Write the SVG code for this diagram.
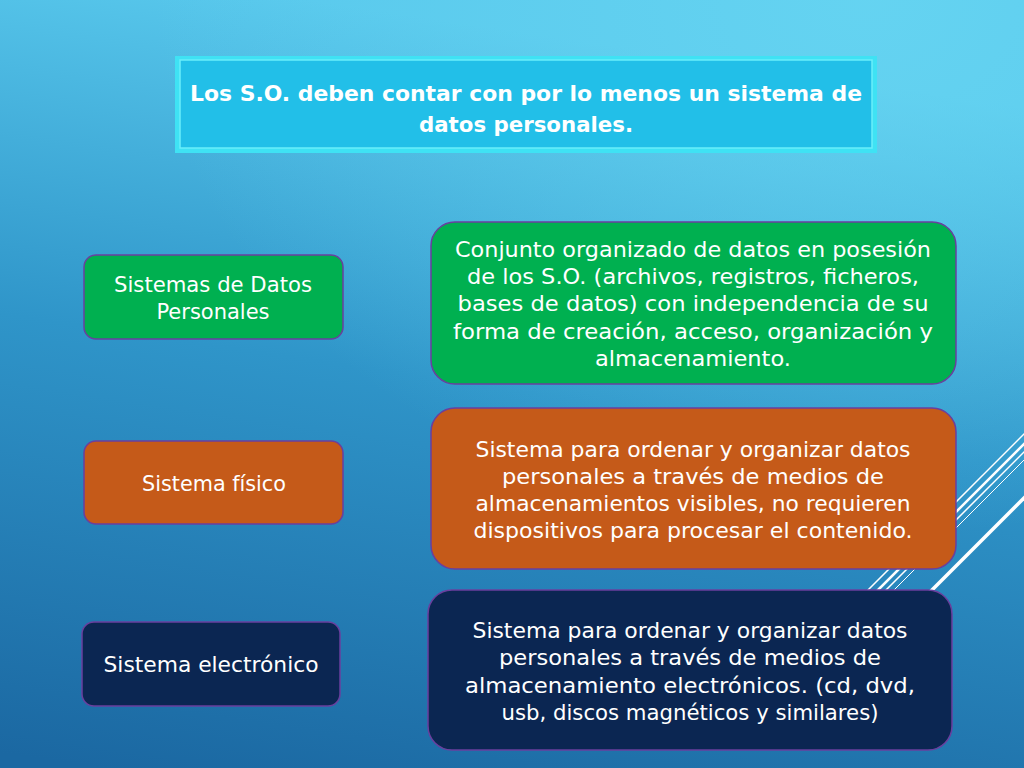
<svg xmlns="http://www.w3.org/2000/svg" width="1024" height="768" viewBox="0 0 1024 768">
  <defs>
    <linearGradient id="bg" x1="0.3" y1="0" x2="0.1" y2="1">
      <stop offset="0" stop-color="#58c8ec"/>
      <stop offset="0.45" stop-color="#2f95c9"/>
      <stop offset="1" stop-color="#1b68a2"/>
    </linearGradient>
    <radialGradient id="hl" cx="0.85" cy="0" r="0.7">
      <stop offset="0" stop-color="#6ad8f3" stop-opacity="0.7"/>
      <stop offset="1" stop-color="#6ad8f3" stop-opacity="0"/>
    </radialGradient>
    <style>
      .body { font-family: "DejaVu Sans", "Liberation Sans", sans-serif; font-size: 21px; fill: #ffffff; text-anchor: middle; }
      .title { font-family: "DejaVu Sans", "Liberation Sans", sans-serif; font-size: 22px; font-weight: bold; fill: #ffffff; text-anchor: middle; }
      .box { stroke: #6a3f9e; stroke-width: 1.5; }
      .green { fill: #00b050; }
      .orange { fill: #c55a19; }
      .navy { fill: #0b2652; }
      .deco { stroke: #ffffff; fill: none; }
    </style>
  </defs>

  <rect x="0" y="0" width="1024" height="768" fill="url(#bg)"/>
  <rect x="0" y="0" width="1024" height="768" fill="url(#hl)"/>

  <g id="decoration">
    <line class="deco" x1="818" y1="640" x2="1100" y2="358" stroke-width="1.5"/>
    <line class="deco" x1="828" y1="640" x2="1110" y2="358" stroke-width="2.5"/>
    <line class="deco" x1="836" y1="640" x2="1118" y2="358" stroke-width="1.5"/>
    <line class="deco" x1="844" y1="640" x2="1126" y2="358" stroke-width="1"/>
    <line class="deco" x1="882" y1="640" x2="1164" y2="358" stroke-width="3.5"/>
  </g>

  <g id="title">
    <rect x="175" y="56" width="702" height="97" fill="#3fe2f4"/>
    <rect x="180" y="60" width="692" height="88" fill="#22bfe8" stroke="#6aeefa" stroke-width="1.5"/>
    <text class="title" x="526" y="101" textLength="672" lengthAdjust="spacingAndGlyphs">Los S.O. deben contar con por lo menos un sistema de</text>
    <text class="title" x="526" y="132" textLength="214" lengthAdjust="spacingAndGlyphs">datos personales.</text>
  </g>

  <g id="node-sdp">
    <rect class="box green" x="84" y="255" width="259" height="84" rx="12"/>
    <text class="body" x="213" y="292" textLength="198" lengthAdjust="spacingAndGlyphs">Sistemas de Datos</text>
    <text class="body" x="213" y="319">Personales</text>
  </g>

  <g id="node-sdp-desc">
    <rect class="box green" x="431" y="222" width="525" height="162" rx="24"/>
    <text class="body" x="693" y="257" textLength="476" lengthAdjust="spacingAndGlyphs">Conjunto organizado de datos en posesión</text>
    <text class="body" x="693" y="284" textLength="452" lengthAdjust="spacingAndGlyphs">de los S.O. (archivos, registros, ficheros,</text>
    <text class="body" x="693" y="311" textLength="471" lengthAdjust="spacingAndGlyphs">bases de datos) con independencia de su</text>
    <text class="body" x="693" y="339" textLength="480" lengthAdjust="spacingAndGlyphs">forma de creación, acceso, organización y</text>
    <text class="body" x="693" y="366" textLength="196" lengthAdjust="spacingAndGlyphs">almacenamiento.</text>
  </g>

  <g id="node-fisico">
    <rect class="box orange" x="84" y="441" width="259" height="83" rx="12"/>
    <text class="body" x="214" y="491" textLength="144" lengthAdjust="spacingAndGlyphs">Sistema físico</text>
  </g>

  <g id="node-fisico-desc">
    <rect class="box orange" x="431" y="408" width="525" height="161" rx="24"/>
    <text class="body" x="693" y="457" textLength="435" lengthAdjust="spacingAndGlyphs">Sistema para ordenar y organizar datos</text>
    <text class="body" x="693" y="484" textLength="382" lengthAdjust="spacingAndGlyphs">personales a través de medios de</text>
    <text class="body" x="693" y="511" textLength="435" lengthAdjust="spacingAndGlyphs">almacenamientos visibles, no requieren</text>
    <text class="body" x="693" y="538" textLength="439" lengthAdjust="spacingAndGlyphs">dispositivos para procesar el contenido.</text>
  </g>

  <g id="node-electronico">
    <rect class="box navy" x="82" y="622" width="258" height="84" rx="12"/>
    <text class="body" x="211" y="672" textLength="215" lengthAdjust="spacingAndGlyphs">Sistema electrónico</text>
  </g>

  <g id="node-electronico-desc">
    <rect class="box navy" x="428" y="590" width="524" height="160" rx="24"/>
    <text class="body" x="690" y="638" textLength="435" lengthAdjust="spacingAndGlyphs">Sistema para ordenar y organizar datos</text>
    <text class="body" x="690" y="665" textLength="382" lengthAdjust="spacingAndGlyphs">personales a través de medios de</text>
    <text class="body" x="690" y="693" textLength="450" lengthAdjust="spacingAndGlyphs">almacenamiento electrónicos. (cd, dvd,</text>
    <text class="body" x="690" y="720" textLength="377" lengthAdjust="spacingAndGlyphs">usb, discos magnéticos y similares)</text>
  </g>

  <g id="connectors"></g>
</svg>
